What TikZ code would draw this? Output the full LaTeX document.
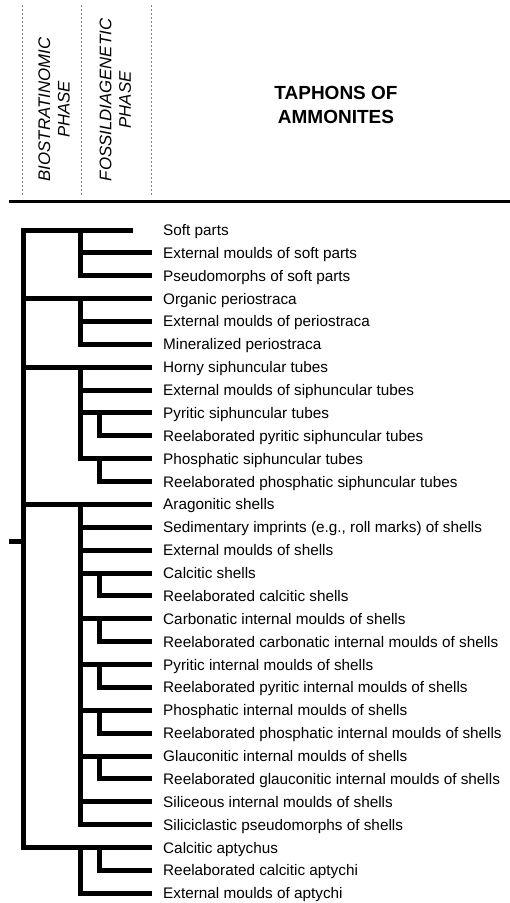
\documentclass[tikz,border=0pt]{standalone}
\usepackage{fontspec}
\setmainfont{Liberation Sans}
\usetikzlibrary{calc}

\tikzset{
  bar/.style={line width=5pt, line join=miter},
  item/.style={anchor=west, inner xsep=11pt, inner ysep=0pt, text height=11pt, text depth=0pt, font=\fontsize{15.3}{18}\selectfont},
  phase/.style={rotate=90, align=center, inner sep=0pt, font=\fontsize{16.8}{19.5}\selectfont\itshape},
  colsep/.style={gray, line width=0.8pt, dash pattern=on 2pt off 2pt}
}

\begin{document}
\begin{tikzpicture}[x=1pt, y=-1pt]
  \useasboundingbox (0,0) rectangle (510,903);
  % header
  \foreach \x in {22.7,81,151} \draw[colsep] (\x,5) -- (\x,197);
  \node[phase] (bio) at (54.2,109.5) {BIOSTRATINOMIC\\PHASE};
  \node[phase] (fos) at (115.3,100) {FOSSILDIAGENETIC\\PHASE};
  \node[align=center, inner sep=0pt, font=\fontsize{19}{23.3}\selectfont\bfseries] (title) at (336,105) {TAPHONS OF\\AMMONITES};
  \draw[line width=3pt] (9,201.5) -- (510,201.5);
  % taphons
  \foreach \txt [count=\i] in {Soft parts, External moulds of soft parts, Pseudomorphs of soft parts,
      Organic periostraca, External moulds of periostraca, Mineralized periostraca,
      Horny siphuncular tubes, External moulds of siphuncular tubes, Pyritic siphuncular tubes,
      Reelaborated pyritic siphuncular tubes, Phosphatic siphuncular tubes,
      Reelaborated phosphatic siphuncular tubes, Aragonitic shells,
      {Sedimentary imprints (e.g., roll marks) of shells}, External moulds of shells,
      Calcitic shells, Reelaborated calcitic shells, Carbonatic internal moulds of shells,
      Reelaborated carbonatic internal moulds of shells, Pyritic internal moulds of shells,
      Reelaborated pyritic internal moulds of shells, Phosphatic internal moulds of shells,
      Reelaborated phosphatic internal moulds of shells, Glauconitic internal moulds of shells,
      Reelaborated glauconitic internal moulds of shells, Siliceous internal moulds of shells,
      Siliciclastic pseudomorphs of shells, Calcitic aptychus, Reelaborated calcitic aptychi,
      External moulds of aptychi}
    \node[item] (r\i) at (152,{230+(\i-1)*22.87}) {\txt};
  % tree
  \coordinate (L1) at (23.3,0);
  \coordinate (L2) at (80.5,0);
  \coordinate (L3) at (99.5,0);
  \coordinate (root) at (9,541);
  \draw[bar] (root) -- (root -| L1);
  \draw[bar] ([xshift=-19pt]r1.west) -- (r1.west -| L1) -- (r28.west -| L1) -- (r28.west);
  \foreach \i in {4,7,13} \draw[bar] (r\i.west -| L1) -- (r\i.west);
  \foreach \a/\b in {1/3,4/6,7/11,13/27,28/30}
    \draw[bar] (r\a.west -| L2) -- (r\b.west -| L2) -- (r\b.west);
  \foreach \i in {2,5,8,9,14,15,16,18,20,22,24,26} \draw[bar] (r\i.west -| L2) -- (r\i.west);
  \foreach \a/\b in {9/10,11/12,16/17,18/19,20/21,22/23,24/25,28/29}
    \draw[bar] (r\a.west -| L3) -- (r\b.west -| L3) -- (r\b.west);
\end{tikzpicture}
\end{document}
